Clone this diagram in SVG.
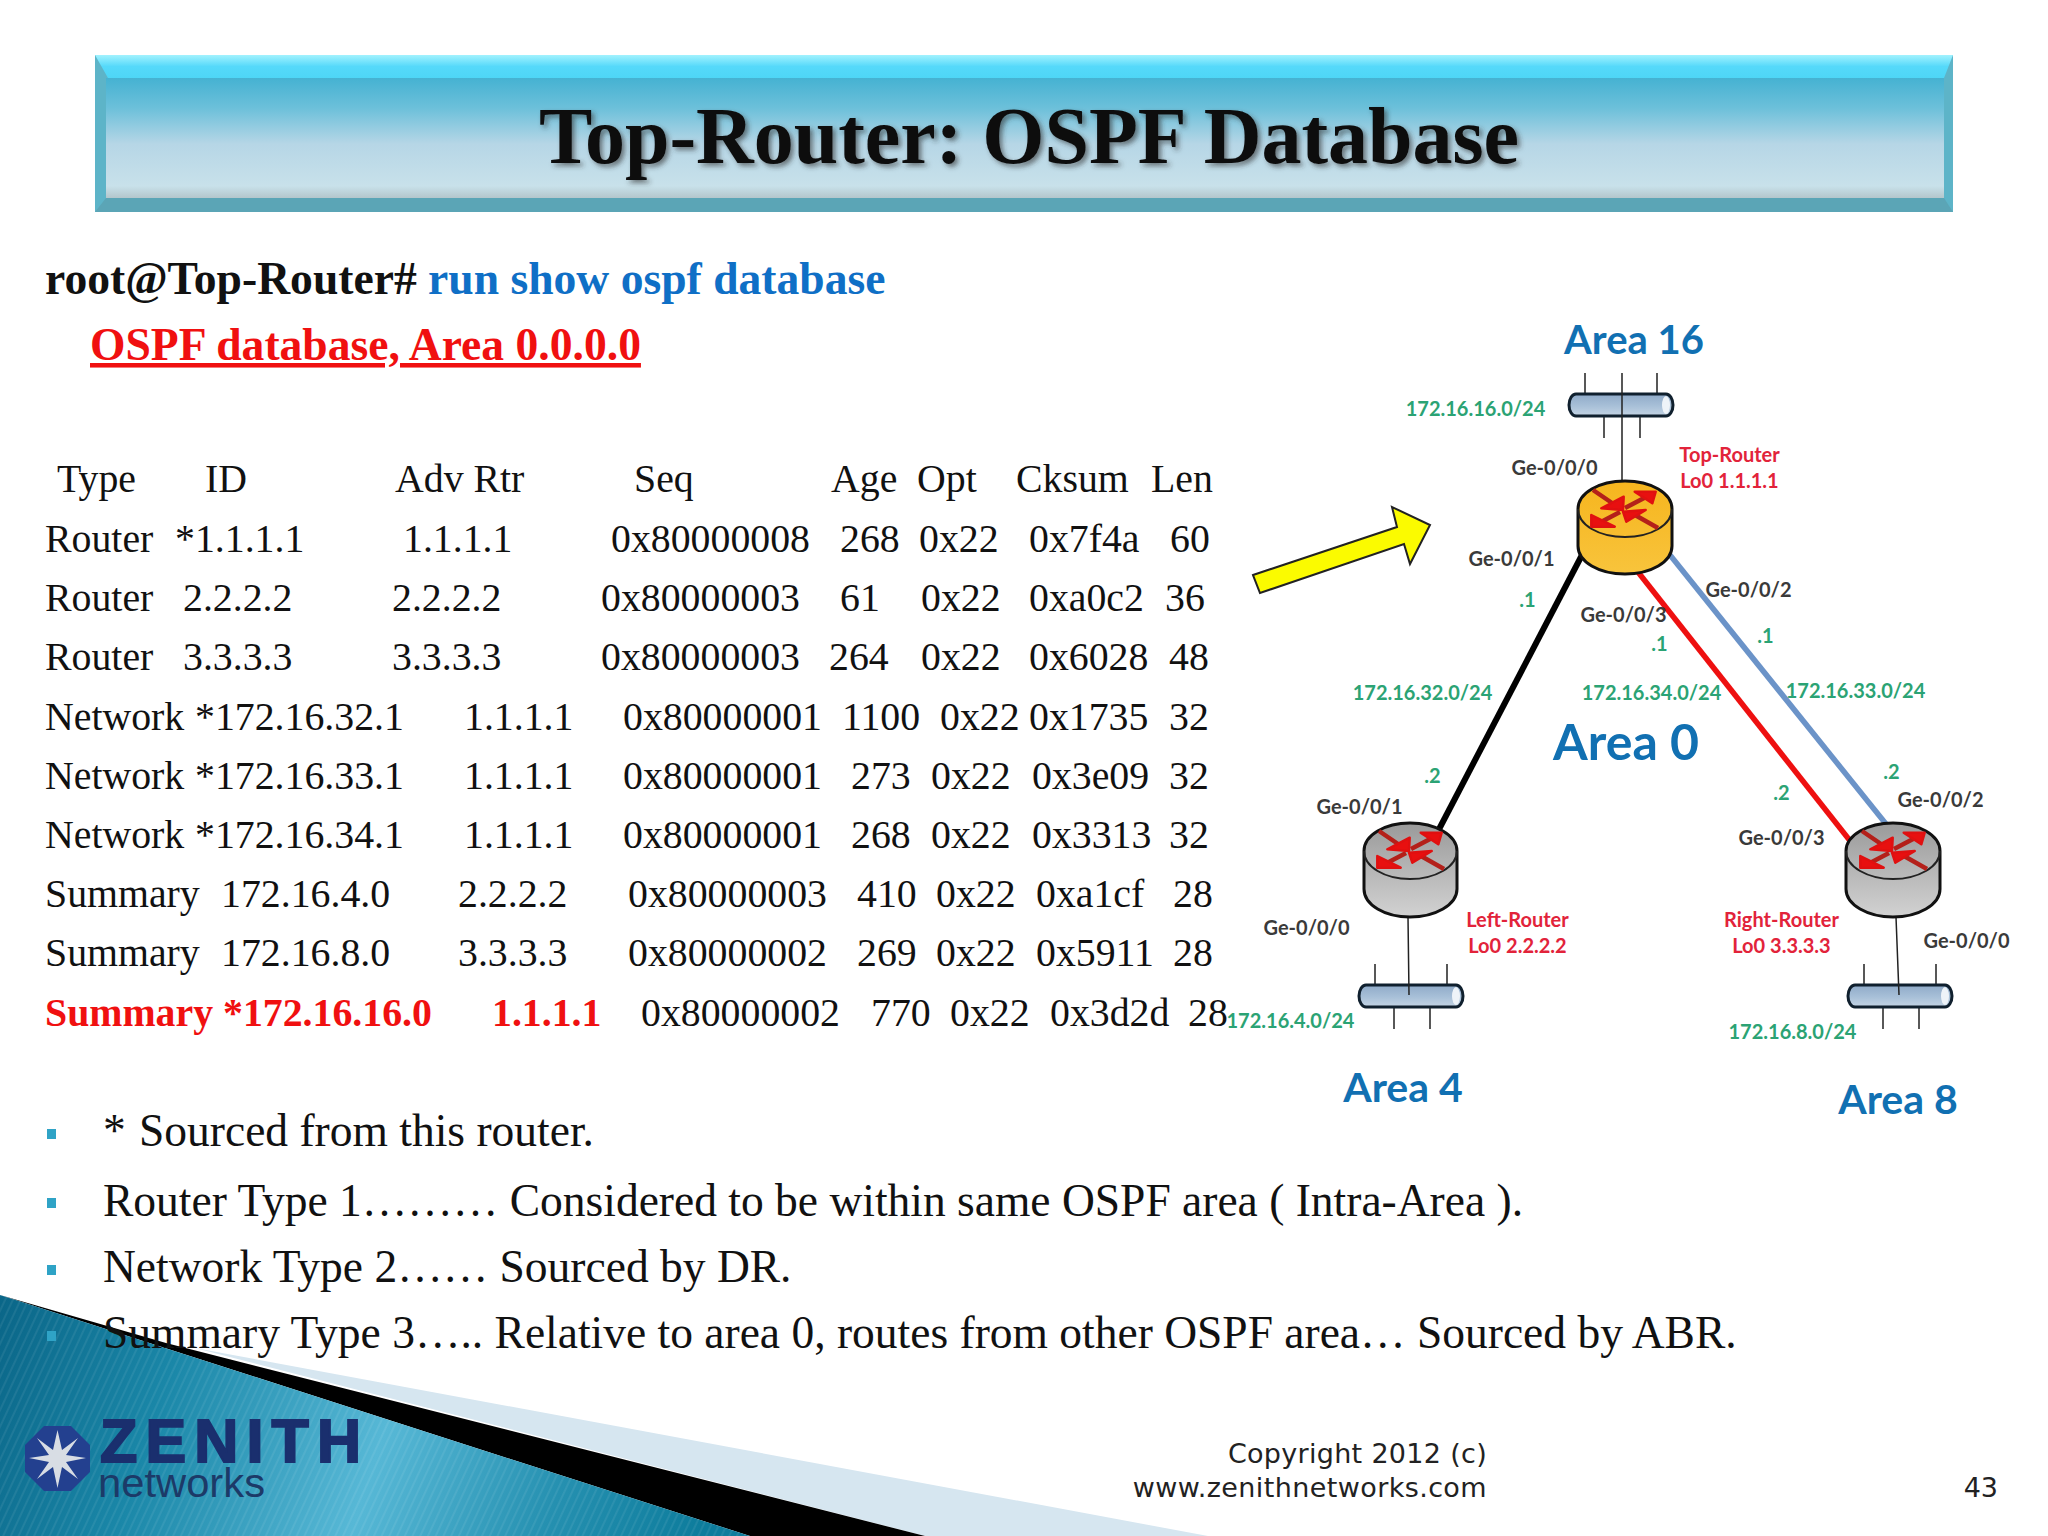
<svg xmlns="http://www.w3.org/2000/svg" width="2048" height="1536" viewBox="0 0 2048 1536">
<style>
.s{font-family:"Liberation Serif","Times New Roman",serif;fill:#111}
.t{font-size:39.8px}
.b{font-size:45.500px}
.h{font-size:45.600px;font-weight:bold}
.l{font-family:Lato,"Liberation Sans",sans-serif;text-anchor:middle;font-weight:bold}
.g{font-size:20px;fill:#2ba374}
.k{font-size:20px;fill:#3a3a3a}
.r{font-size:20px;fill:#e2233a}
.a{fill:#1170b2}
.bul{fill:#2fa3c6}
.d{font-family:"DejaVu Sans",sans-serif;font-size:27px;fill:#222;text-anchor:end}
.tick{stroke:#222;stroke-width:1.5;fill:none}
.bus{fill:url(#busG);stroke:#10202e;stroke-width:3}
.shaft{stroke:#b4201a;stroke-width:4.500;fill:none}
.head{fill:#e81010;stroke:#e01010;stroke-width:2.500;stroke-linejoin:round}
.rim{fill:none;stroke:#222;stroke-width:2}
.body{stroke:#111;stroke-width:3}
</style>
<defs>
<linearGradient id="hd" x1="0" y1="0" x2="0" y2="1">
<stop offset="0" stop-color="#45b2d2"/><stop offset=".25" stop-color="#6cc0da"/><stop offset=".55" stop-color="#b6d6e6"/><stop offset=".9" stop-color="#c8e1ea"/><stop offset="1" stop-color="#b4c6cc"/>
</linearGradient>
<linearGradient id="hdTop" x1="0" y1="0" x2="0" y2="1"><stop offset="0" stop-color="#a2f2fe"/><stop offset=".5" stop-color="#55d9fa"/><stop offset="1" stop-color="#4ed6f6"/></linearGradient>
<linearGradient id="teal" gradientUnits="userSpaceOnUse" x1="0" y1="1300" x2="700" y2="1536">
<stop offset="0" stop-color="#0a6688"/><stop offset=".25" stop-color="#1a87a8"/><stop offset=".55" stop-color="#57b8d6"/><stop offset=".8" stop-color="#2590b0"/><stop offset="1" stop-color="#0d7c9c"/>
</linearGradient>
<linearGradient id="busG" x1="0" y1="0" x2="0" y2="1"><stop offset="0" stop-color="#8faac8"/><stop offset=".55" stop-color="#a8c0d8"/><stop offset="1" stop-color="#c4d4e4"/></linearGradient>
<linearGradient id="yb" x1="0" y1="0" x2="0" y2="1"><stop offset="0" stop-color="#f6b51e"/><stop offset="1" stop-color="#f8c43c"/></linearGradient>
<linearGradient id="gb" x1="0" y1="0" x2="0" y2="1"><stop offset="0" stop-color="#9a9a9a"/><stop offset="1" stop-color="#d2d2d2"/></linearGradient>
<filter id="sh" x="-5%" y="-20%" width="110%" height="140%"><feGaussianBlur in="SourceGraphic" stdDeviation=".6" result="a"/><feDropShadow in="a" dx="3" dy="3" stdDeviation="2.500" flood-color="#333" flood-opacity=".6"/></filter>
<pattern id="st" width="7" height="7" patternUnits="userSpaceOnUse" patternTransform="rotate(25)"><rect width="2" height="7" fill="#fff" opacity=".07"/></pattern>
<g id="arrows">
<path class="shaft" d="M-30 -20L-8 -5M2 -2L23 -13M-3 2L-22 12M35 18L12 5"/>
<path class="head" d="M0 0L.7 -13.300L-21.700 -1.700ZM32.700 -18.300L11.700 -18.300L29.300 -6.700ZM-31.700 16.700L-31.700 5L-8.300 16.700ZM0 1.700L22.700 0L3.300 11.700Z"/>
</g>
<g id="busbar">
<path class="tick" d="M17 -21V0M89 -21V0M36 23V44M72 23V44"/>
<path class="bus" d="M8 0H98A7 11 0 0 1 98 22H8A7 11 0 0 1 8 0Z"/>
<ellipse cx="98" cy="11" rx="4" ry="9" fill="#eef3f8"/>
</g>
</defs>
<rect width="2048" height="1536" fill="#fff"/>

<g id="header">
<rect x="95" y="55" width="1858" height="157" fill="#5db4c8"/>
<rect x="106" y="78" width="1838" height="120" fill="url(#hd)"/>
<path d="M95 55H1953L1944 78H108Z" fill="url(#hdTop)"/>
<path d="M95 212L106 198H1944L1953 212Z" fill="#5ba5b6"/>
<text class="s" x="1029" y="163" font-size="80" font-weight="bold" text-anchor="middle" textLength="980" lengthAdjust="spacingAndGlyphs" filter="url(#sh)">Top-Router: OSPF Database</text>
</g>

<g id="footer">
<path d="M195 1348L1208 1536H925Z" fill="#d6e6f0"/>
<path d="M0 1295L166 1343L925 1536H750Z" fill="#000"/>
<path d="M0 1295L750 1536H0Z" fill="url(#teal)"/>
<path d="M0 1295L750 1536H0Z" fill="url(#st)"/>
</g>

<g id="heading">
<text class="s h" x="45" y="294">root@Top-Router# <tspan fill="#0f6fc6">run show ospf database</tspan></text>
<text class="s h" x="90" y="360" style="fill:#f01010;text-decoration:underline">OSPF database, Area 0.0.0.0</text>
</g>

<g id="table">
<text class="s t" y="492"><tspan x="57">Type</tspan><tspan x="205">ID</tspan><tspan x="395">Adv Rtr</tspan><tspan x="634">Seq</tspan><tspan x="831">Age</tspan><tspan x="917">Opt</tspan><tspan x="1016">Cksum</tspan><tspan x="1151">Len</tspan></text>
<text class="s t" y="552"><tspan x="45">Router</tspan><tspan x="175">*1.1.1.1</tspan><tspan x="403">1.1.1.1</tspan><tspan x="611">0x80000008</tspan><tspan x="840">268</tspan><tspan x="919">0x22</tspan><tspan x="1029">0x7f4a</tspan><tspan x="1170">60</tspan></text>
<text class="s t" y="611"><tspan x="45">Router</tspan><tspan x="183">2.2.2.2</tspan><tspan x="392">2.2.2.2</tspan><tspan x="601">0x80000003</tspan><tspan x="840">61</tspan><tspan x="921">0x22</tspan><tspan x="1029">0xa0c2</tspan><tspan x="1165">36</tspan></text>
<text class="s t" y="670"><tspan x="45">Router</tspan><tspan x="183">3.3.3.3</tspan><tspan x="392">3.3.3.3</tspan><tspan x="601">0x80000003</tspan><tspan x="829">264</tspan><tspan x="921">0x22</tspan><tspan x="1029">0x6028</tspan><tspan x="1169">48</tspan></text>
<text class="s t" y="730"><tspan x="45">Network</tspan><tspan x="195">*172.16.32.1</tspan><tspan x="464">1.1.1.1</tspan><tspan x="623">0x80000001</tspan><tspan x="842">1100</tspan><tspan x="940">0x22</tspan><tspan x="1029">0x1735</tspan><tspan x="1169">32</tspan></text>
<text class="s t" y="789"><tspan x="45">Network</tspan><tspan x="195">*172.16.33.1</tspan><tspan x="464">1.1.1.1</tspan><tspan x="623">0x80000001</tspan><tspan x="851">273</tspan><tspan x="931">0x22</tspan><tspan x="1032">0x3e09</tspan><tspan x="1169">32</tspan></text>
<text class="s t" y="848"><tspan x="45">Network</tspan><tspan x="195">*172.16.34.1</tspan><tspan x="464">1.1.1.1</tspan><tspan x="623">0x80000001</tspan><tspan x="851">268</tspan><tspan x="931">0x22</tspan><tspan x="1032">0x3313</tspan><tspan x="1169">32</tspan></text>
<text class="s t" y="907"><tspan x="45">Summary</tspan><tspan x="221">172.16.4.0</tspan><tspan x="458">2.2.2.2</tspan><tspan x="628">0x80000003</tspan><tspan x="857">410</tspan><tspan x="936">0x22</tspan><tspan x="1036">0xa1cf</tspan><tspan x="1173">28</tspan></text>
<text class="s t" y="966"><tspan x="45">Summary</tspan><tspan x="221">172.16.8.0</tspan><tspan x="458">3.3.3.3</tspan><tspan x="628">0x80000002</tspan><tspan x="857">269</tspan><tspan x="936">0x22</tspan><tspan x="1036">0x5911</tspan><tspan x="1173">28</tspan></text>
<text class="s t" y="1026"><tspan x="45" font-weight="bold" fill="#f01010">Summary *172.16.16.0</tspan><tspan x="492" font-weight="bold" fill="#f01010">1.1.1.1</tspan><tspan x="641">0x80000002</tspan><tspan x="871">770</tspan><tspan x="950">0x22</tspan><tspan x="1050">0x3d2d</tspan><tspan x="1188">28</tspan></text>
</g>

<g id="bullets">
<rect class="bul" x="47" y="1129" width="9" height="10"/><rect class="bul" x="47" y="1198" width="9" height="10"/><rect class="bul" x="47" y="1265" width="9" height="10"/><rect class="bul" x="47" y="1331" width="9" height="10"/>
<text class="s b" x="103" y="1146">*</text><text class="s b" x="139" y="1146">Sourced from this router.</text>
<text class="s b" x="103" y="1216">Router Type 1……… Considered to be within same OSPF area ( Intra-Area ).</text>
<text class="s b" x="103" y="1282">Network Type 2…… Sourced by DR.</text>
<text class="s b" x="103" y="1348">Summary Type 3….. Relative to area 0, routes from other OSPF area… Sourced by ABR.</text>
</g>

<g id="logo">
<path d="M44 1426H71L90 1445V1472L71 1491H44L25 1472V1445Z" fill="#23408f"/>
<path d="M57.500 1430L62 1450L78 1438L66 1455L86 1458L66 1462L78 1479L62 1467L57.500 1488L53 1467L37 1479L49 1462L29 1458L49 1455L37 1438L53 1450Z" fill="#d8dde4"/>
<text x="100" y="1462" font-family="Liberation Sans,sans-serif" font-weight="bold" font-size="61" fill="#1a2f6e" stroke="#1a2f6e" stroke-width="2" textLength="261">ZENITH</text>
<text x="98" y="1497" font-family="Liberation Sans,sans-serif" font-size="40" fill="#1c3a68" textLength="167" lengthAdjust="spacingAndGlyphs">networks</text>
</g>

<g id="copyright">
<text class="d" x="1487" y="1463" letter-spacing=".3">Copyright 2012 (c)</text>
<text class="d" x="1487" y="1497" letter-spacing=".4">www.zenithnetworks.com</text>
<text class="d" x="1998" y="1497">43</text>
</g>

<g id="callout"><path d="M1253 575L1397 527L1392 507L1430 525L1410 564L1404 544L1260 593Z" fill="#fbfb00" stroke="#222" stroke-width="2"/></g>

<g id="area16-net"><use href="#busbar" transform="translate(1568 394)"/></g>
<g id="area4-net"><use href="#busbar" transform="translate(1358 985)"/></g>
<g id="area8-net"><use href="#busbar" transform="translate(1847 985)"/></g>

<g id="connectors" fill="none">
<path d="M1582 555L1436 835" stroke="#000" stroke-width="6"/>
<path d="M1638 572L1851 842" stroke="#ee1010" stroke-width="5.500"/>
<path d="M1670 555L1886 824" stroke="#6b93c8" stroke-width="5.500"/>
<path class="tick" d="M1622 373V482M1408 917L1409 995M1896 917L1899 995"/>
</g>

<g id="top-router">
<path class="body" d="M1578 509C1578 493 1599 481 1625 481C1651 481 1672 493 1672 509V546C1672 562 1651 574 1625 574C1599 574 1578 562 1578 546Z" fill="url(#yb)"/>
<path class="rim" d="M1578 509C1578 525 1599 537 1625 537C1651 537 1672 525 1672 509"/>
<use href="#arrows" transform="translate(1623 510)"/>
</g>
<g id="left-router">
<path class="body" d="M1364 851C1364 835 1385 823 1410 823C1435 823 1457 835 1457 851V889C1457 905 1435 917 1410 917C1385 917 1364 905 1364 889Z" fill="url(#gb)"/>
<path class="rim" d="M1364 851C1364 867 1385 879 1410 879C1435 879 1457 867 1457 851"/>
<use href="#arrows" transform="translate(1409 851)"/>
</g>
<g id="right-router">
<path class="body" d="M1846 851C1846 835 1868 823 1893 823C1918 823 1940 835 1940 851V889C1940 905 1918 917 1893 917C1868 917 1846 905 1846 889Z" fill="url(#gb)"/>
<path class="rim" d="M1846 851C1846 867 1868 879 1893 879C1918 879 1940 867 1940 851"/>
<use href="#arrows" transform="translate(1892 851)"/>
</g>

<g id="area-labels">
<text class="l a" x="1634" y="354" font-size="40">Area 16</text>
<text class="l a" x="1626" y="760" font-size="50">Area 0</text>
<text class="l a" x="1403" y="1102" font-size="41">Area 4</text>
<text class="l a" x="1898" y="1114" font-size="41">Area 8</text>
</g>
<g id="labels" transform="translate(-.5 1)">
<text class="l g" x="1476" y="415">172.16.16.0/24</text>
<text class="l g" x="1423" y="699">172.16.32.0/24</text>
<text class="l g" x="1652" y="699">172.16.34.0/24</text>
<text class="l g" x="1856" y="697">172.16.33.0/24</text>
<text class="l g" x="1291" y="1027">172.16.4.0/24</text>
<text class="l g" x="1793" y="1038">172.16.8.0/24</text>
<text class="l g" x="1528" y="606">.1</text>
<text class="l g" x="1660" y="650">.1</text>
<text class="l g" x="1766" y="642">.1</text>
<text class="l g" x="1433" y="782">.2</text>
<text class="l g" x="1892" y="778">.2</text>
<text class="l g" x="1782" y="799">.2</text>
<text class="l k" x="1555" y="474">Ge-0/0/0</text>
<text class="l k" x="1512" y="565">Ge-0/0/1</text>
<text class="l k" x="1749" y="596">Ge-0/0/2</text>
<text class="l k" x="1624" y="621">Ge-0/0/3</text>
<text class="l k" x="1360" y="813">Ge-0/0/1</text>
<text class="l k" x="1941" y="806">Ge-0/0/2</text>
<text class="l k" x="1782" y="844">Ge-0/0/3</text>
<text class="l k" x="1307" y="934">Ge-0/0/0</text>
<text class="l k" x="1967" y="947">Ge-0/0/0</text>
</g>
<g id="router-labels">
<text class="l r" x="1729.500" y="462">Top-Router</text>
<text class="l r" x="1729.500" y="488">Lo0 1.1.1.1</text>
<text class="l r" x="1517.500" y="927">Left-Router</text>
<text class="l r" x="1517.500" y="953">Lo0 2.2.2.2</text>
<text class="l r" x="1781.500" y="927">Right-Router</text>
<text class="l r" x="1781.500" y="953">Lo0 3.3.3.3</text>
</g>
</svg>
